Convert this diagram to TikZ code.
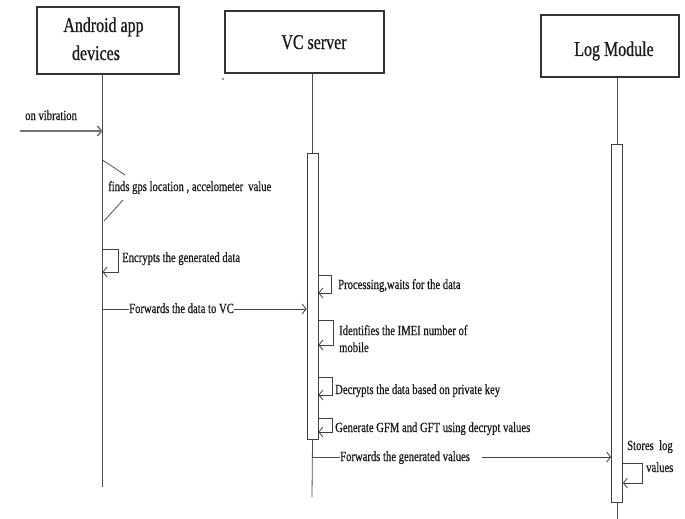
\documentclass[tikz,border=0pt]{standalone}
\usepackage{fontspec}
\setmainfont[FakeStretch=0.76, FakeBold=0.6]{Liberation Serif}
\usetikzlibrary{arrows.meta}

\begin{document}
\begin{tikzpicture}[x=1pt,y=-1pt,
  headbox/.style={draw=black!80, line width=1.1pt, fill=white, inner sep=0pt},
  headtext/.style={font=\fontsize{21}{23}\selectfont, inner sep=0pt, anchor=base, text=black!90},
  life/.style={draw=black!70, line width=0.8pt},
  act/.style={draw=black!75, line width=0.8pt, fill=white, inner sep=0pt, minimum width=11pt},
  msg/.style={draw=black!75, line width=0.8pt, -{Straight Barb[length=4pt,width=10pt]}},
  lbl/.style={font=\fontsize{14}{17}\selectfont, inner sep=0pt, anchor=base west, text=black!90},
]
\useasboundingbox (0,0) rectangle (685,519);

% participant heads
\node[headbox, minimum width=142pt, minimum height=67pt] (andH) at (108,40.5) {};
\node[headbox, minimum width=159pt, minimum height=62pt] (vcH) at (304.5,42) {};
\node[headbox, minimum width=138pt, minimum height=62pt] (logH) at (610,46) {};
\node[headtext] (andT1) at (103.5,32) {Android app};
\node[headtext] (andT2) at (96,60) {devices};
\node[headtext] (vcT) at (314,49) {VC server};
\node[headtext] (logT) at (614,56) {Log Module};
\fill[black!80] (223,79) circle (0.9pt);

% lifelines
\coordinate (andEnd) at (102.5,487);
\coordinate (vcEnd) at (312,497);
\coordinate (logEnd) at (617,519);
\draw[life] (andH.south -| andEnd) -- (andEnd);

% activation bars
\node[act, minimum height=286pt] (vcA) at (312.5,296) {};
\node[act, minimum height=358pt] (logA) at (617,323) {};
\draw[life] (vcH.south -| vcA.north) -- (vcA.north);
\draw[life] (vcA.south) -- (vcEnd);
\draw[life] (logH.south -| logA.north) -- (logA.north);
\draw[life] (logA.south) -- (logEnd);

% on vibration
\coordinate (vibStart) at (20,131);
\draw[msg, draw=black!55, line width=1.5pt] (vibStart) -- (vibStart -| andEnd);
\node[lbl] (vibL) at (25,120) {on vibration};

% finds gps location
\draw[life] (102.5,160) -- (125,175);
\draw[life] (123,200) -- (104,221);
\node[lbl] (gpsL) at (108,191) {finds gps location , accelometer\, value};

% encrypts
\draw[msg] (102.5,249) -- (118,249) -- (118,272) -- (102.5,272);
\node[lbl] (encL) at (122,262) {Encrypts the generated data};

% forwards the data to VC
\node[lbl] (fwd1L) at (129,313) {Forwards the data to VC};
\draw[life] (102.5,309) -- (fwd1L.west |- 0,309);
\draw[msg] (fwd1L.east |- 0,309) -- (vcA.west |- 0,309);

% VC self messages
\draw[msg] (vcA.east |- 0,275) -- (331,275) -- (331,293) -- (vcA.east |- 0,293);
\node[lbl] (procL) at (338,289) {Processing,waits for the data};

\draw[msg] (vcA.east |- 0,320) -- (333,320) -- (333,345) -- (vcA.east |- 0,345);
\node[lbl, align=left, anchor=north west] (imeiL) at (339,325) {Identifies the IMEI number of\\mobile};

\draw[msg] (vcA.east |- 0,377) -- (332,377) -- (332,395) -- (vcA.east |- 0,395);
\node[lbl] (decL) at (335,394) {Decrypts the data based on private key};

\draw[msg] (vcA.east |- 0,418) -- (332,418) -- (332,432) -- (vcA.east |- 0,432);
\node[lbl] (genL) at (335,432) {Generate GFM and GFT using decrypt values};

% forwards the generated values
\node[lbl] (fwd2L) at (340,461) {Forwards the generated values};
\draw[life] (vcEnd |- 0,457) -- (fwd2L.west |- 0,457);
\draw[msg] ([xshift=12pt]fwd2L.east |- 0,457) -- (logA.west |- 0,457);

% stores log values
\draw[msg] (logA.east |- 0,463) -- (642,463) -- (642,483) -- (logA.east |- 0,483);
\node[lbl] (stL1) at (627,450) {Stores\ \ log};
\node[lbl] (stL2) at (646,472) {values};
\end{tikzpicture}
\end{document}
